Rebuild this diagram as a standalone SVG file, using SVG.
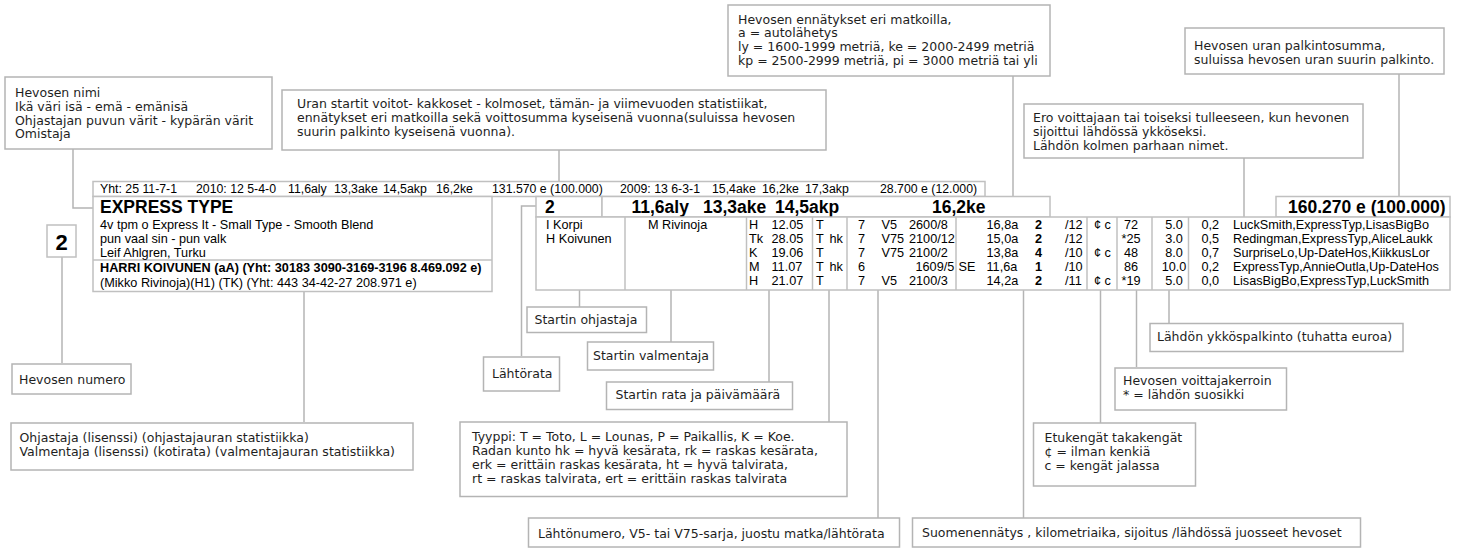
<svg xmlns="http://www.w3.org/2000/svg" width="1462" height="552" viewBox="0 0 1462 552">
<style>
.box{fill:#fff;stroke:#b4b4b4;stroke-width:1.5}
.tb{fill:#fff;stroke:#c0c0c0;stroke-width:1.5}
.ln{stroke:#b4b4b4;stroke-width:1.5;fill:none}
.cl{stroke:#c0c0c0;stroke-width:1.5}
.t{font-family:"DejaVu Sans",Verdana,sans-serif;font-size:12.5px;fill:#1e1e1e}
.a{font-family:"Liberation Sans",Arial,sans-serif;font-size:12.7px;fill:#000}
.y{font-family:"Liberation Sans",Arial,sans-serif;font-size:12.3px;fill:#000}
.b{font-weight:bold}
.h{font-family:"Liberation Sans",Arial,sans-serif;font-size:17.5px;font-weight:bold;fill:#000}
</style>
<rect width="1462" height="552" fill="#fff"/>

<g id="connectors" class="ln">
<polyline points="73,149 73,208 93,208"/>
<line x1="559" y1="150" x2="559" y2="181"/>
<line x1="1013" y1="76" x2="1013" y2="196"/>
<line x1="1399" y1="74" x2="1399" y2="196"/>
<line x1="1244" y1="158" x2="1244" y2="217"/>
<line x1="62" y1="257" x2="62" y2="363"/>
<line x1="304" y1="292" x2="304" y2="422"/>
<polyline points="521.5,356 521.5,206 536,206"/>
<line x1="579.5" y1="290" x2="579.5" y2="307"/>
<line x1="671" y1="290" x2="671" y2="342"/>
<line x1="769" y1="290" x2="769" y2="382"/>
<line x1="829" y1="290" x2="829" y2="422"/>
<line x1="878" y1="290" x2="878" y2="518"/>
<line x1="1023.5" y1="290" x2="1023.5" y2="518"/>
<line x1="1100.5" y1="290" x2="1100.5" y2="423"/>
<line x1="1136.5" y1="290" x2="1136.5" y2="367"/>
<line x1="1169" y1="290" x2="1169" y2="323"/>
</g>

<g id="note-horse-name">
<rect class="box" x="5" y="77" width="267" height="72"/>
<text class="t" x="15" y="97">Hevosen nimi</text>
<text class="t" x="15" y="110.8">Ikä väri isä - emä - emänisä</text>
<text class="t" x="15" y="124.6">Ohjastajan puvun värit - kypärän värit</text>
<text class="t" x="15" y="138.4">Omistaja</text>
</g>

<g id="note-career">
<rect class="box" x="282" y="90" width="544" height="60"/>
<text class="t" x="297" y="108">Uran startit voitot- kakkoset - kolmoset, tämän- ja viimevuoden statistiikat,</text>
<text class="t" x="297" y="122">ennätykset eri matkoilla sekä voittosumma kyseisenä vuonna(suluissa hevosen</text>
<text class="t" x="297" y="136">suurin palkinto kyseisenä vuonna).</text>
</g>

<g id="note-records">
<rect class="box" x="728" y="5" width="322" height="71"/>
<text class="t" x="738" y="23.5">Hevosen ennätykset eri matkoilla,</text>
<text class="t" x="738" y="37.2">a = autolähetys</text>
<text class="t" x="738" y="50.9">ly = 1600-1999 metriä, ke = 2000-2499 metriä</text>
<text class="t" x="738" y="64.6">kp = 2500-2999 metriä, pi = 3000 metriä tai yli</text>
</g>

<g id="note-prize-total">
<rect class="box" x="1185" y="28" width="259" height="46"/>
<text class="t" x="1194" y="50">Hevosen uran palkintosumma,</text>
<text class="t" x="1194" y="63.8">suluissa hevosen uran suurin palkinto.</text>
</g>

<g id="note-margin">
<rect class="box" x="1024" y="104" width="339" height="54"/>
<text class="t" x="1033" y="121.7">Ero voittajaan tai toiseksi tulleeseen, kun hevonen</text>
<text class="t" x="1033" y="135.7">sijoittui lähdössä ykköseksi.</text>
<text class="t" x="1033" y="149.7">Lähdön kolmen parhaan nimet.</text>
</g>

<g id="yht-row">
<rect class="tb" x="93" y="181.5" width="892" height="15"/>
<text class="y" x="100" y="193">Yht: 25 11-7-1</text>
<text class="y" x="196" y="193">2010: 12 5-4-0</text>
<text class="y" x="288" y="193">11,6aly</text>
<text class="y" x="334" y="193">13,3ake</text>
<text class="y" x="383" y="193">14,5akp</text>
<text class="y" x="436" y="193">16,2ke</text>
<text class="y" x="492" y="193">131.570 e (100.000)</text>
<text class="y" x="620" y="193">2009: 13 6-3-1</text>
<text class="y" x="712" y="193">15,4ake</text>
<text class="y" x="762" y="193">16,2ke</text>
<text class="y" x="805" y="193">17,3akp</text>
<text class="y" x="880" y="193">28.700 e (12.000)</text>
</g>

<g id="horse-info">
<rect class="tb" x="93" y="196.5" width="399" height="95"/>
<line class="cl" x1="93" y1="260" x2="492" y2="260"/>
<text class="h" x="100" y="213">EXPRESS TYPE</text>
<text class="a" x="100" y="229">4v tpm o Express It - Small Type - Smooth Blend</text>
<text class="a" x="100" y="242.8">pun vaal sin - pun valk</text>
<text class="a" x="100" y="256.6">Leif Ahlgren, Turku</text>
<text class="a b" x="100" y="272.4">HARRI KOIVUNEN (aA) (Yht: 30183 3090-3169-3196 8.469.092 e)</text>
<text class="a" x="100" y="286.6">(Mikko Rivinoja)(H1) (TK) (Yht: 443 34-42-27 208.971 e)</text>
</g>

<g id="horse-number">
<rect class="tb" x="47" y="225" width="29" height="32"/>
<text x="61.5" y="250" text-anchor="middle" font-family="Liberation Sans, Arial, sans-serif" font-size="22" font-weight="bold">2</text>
</g>

<g id="start-post">
<rect class="tb" x="536" y="196.5" width="66" height="20.5"/>
<text class="h" x="545" y="212.7">2</text>
</g>

<g id="records-header">
<rect class="tb" x="602" y="196.5" width="448" height="20.5"/>
<text class="h" x="631.5" y="212.7">11,6aly</text>
<text class="h" x="703" y="212.7">13,3ake</text>
<text class="h" x="775" y="212.7">14,5akp</text>
<text class="h" x="932" y="212.7">16,2ke</text>
</g>

<g id="prize-total">
<rect class="tb" x="1276" y="196.5" width="174" height="20.5"/>
<text class="h" x="1288" y="212.7">160.270 e (100.000)</text>
</g>

<g id="race-results">
<rect class="tb" x="536" y="217" width="914" height="73"/>
<line class="cl" x1="625" y1="217" x2="625" y2="290"/>
<line class="cl" x1="746.5" y1="217" x2="746.5" y2="290"/>
<line class="cl" x1="812.5" y1="217" x2="812.5" y2="290"/>
<line class="cl" x1="847" y1="217" x2="847" y2="290"/>
<line class="cl" x1="956" y1="217" x2="956" y2="290"/>
<line class="cl" x1="1087" y1="217" x2="1087" y2="290"/>
<line class="cl" x1="1117" y1="217" x2="1117" y2="290"/>
<line class="cl" x1="1152" y1="217" x2="1152" y2="290"/>
<line class="cl" x1="1188.5" y1="217" x2="1188.5" y2="290"/>

<text class="a" x="546" y="228.5">I Korpi</text>
<text class="a" x="546" y="242.6">H Koivunen</text>
<text class="a" x="648" y="228.5">M Rivinoja</text>

<text class="a" x="749" y="228.5">H</text>
<text class="a" x="749" y="242.6">Tk</text>
<text class="a" x="749" y="256.7">K</text>
<text class="a" x="749" y="270.8">M</text>
<text class="a" x="749" y="284.9">H</text>
<text class="a" x="771.5" y="228.5">12.05</text>
<text class="a" x="771.5" y="242.6">28.05</text>
<text class="a" x="771.5" y="256.7">19.06</text>
<text class="a" x="771.5" y="270.8">11.07</text>
<text class="a" x="771.5" y="284.9">21.07</text>

<text class="a" x="816" y="228.5">T</text>
<text class="a" x="816" y="242.6">T</text>
<text class="a" x="816" y="256.7">T</text>
<text class="a" x="816" y="270.8">T</text>
<text class="a" x="816" y="284.9">T</text>
<text class="a" x="829.5" y="242.6">hk</text>
<text class="a" x="829.5" y="270.8">hk</text>

<text class="a" x="858" y="228.5">7</text>
<text class="a" x="858" y="242.6">7</text>
<text class="a" x="858" y="256.7">7</text>
<text class="a" x="858" y="270.8">6</text>
<text class="a" x="858" y="284.9">7</text>
<text class="a" x="881.5" y="228.5">V5</text>
<text class="a" x="881.5" y="242.6">V75</text>
<text class="a" x="881.5" y="256.7">V75</text>
<text class="a" x="881.5" y="284.9">V5</text>
<text class="a" x="909" y="228.5">2600/8</text>
<text class="a" x="909" y="242.6">2100/12</text>
<text class="a" x="909" y="256.7">2100/2</text>
<text class="a" x="915.5" y="270.8">1609/5</text>
<text class="a" x="909" y="284.9">2100/3</text>
<text class="a" x="958.5" y="270.8">SE</text>

<text class="a" x="986.5" y="228.5">16,8a</text>
<text class="a" x="986.5" y="242.6">15,0a</text>
<text class="a" x="986.5" y="256.7">13,8a</text>
<text class="a" x="986.5" y="270.8">11,6a</text>
<text class="a" x="986.5" y="284.9">14,2a</text>
<text class="a b" x="1035" y="228.5">2</text>
<text class="a b" x="1035" y="242.6">2</text>
<text class="a b" x="1035" y="256.7">4</text>
<text class="a b" x="1035" y="270.8">1</text>
<text class="a b" x="1035" y="284.9">2</text>
<text class="a" x="1065" y="228.5">/12</text>
<text class="a" x="1065" y="242.6">/12</text>
<text class="a" x="1065" y="256.7">/10</text>
<text class="a" x="1065" y="270.8">/10</text>
<text class="a" x="1065" y="284.9">/11</text>

<text class="a" x="1094" y="228.5">¢ c</text>
<text class="a" x="1094" y="256.7">¢ c</text>
<text class="a" x="1094" y="284.9">¢ c</text>

<text class="a" x="1124" y="228.5">72</text>
<text class="a" x="1121.5" y="242.6">*25</text>
<text class="a" x="1124" y="256.7">48</text>
<text class="a" x="1124" y="270.8">86</text>
<text class="a" x="1121.5" y="284.9">*19</text>

<text class="a" x="1174" y="228.5" text-anchor="middle">5.0</text>
<text class="a" x="1174" y="242.6" text-anchor="middle">3.0</text>
<text class="a" x="1174" y="256.7" text-anchor="middle">8.0</text>
<text class="a" x="1174" y="270.8" text-anchor="middle">10.0</text>
<text class="a" x="1174" y="284.9" text-anchor="middle">5.0</text>

<text class="a" x="1201.5" y="228.5">0,2</text>
<text class="a" x="1201.5" y="242.6">0,5</text>
<text class="a" x="1201.5" y="256.7">0,7</text>
<text class="a" x="1201.5" y="270.8">0,2</text>
<text class="a" x="1201.5" y="284.9">0,0</text>

<text class="a" x="1233" y="228.5">LuckSmith,ExpressTyp,LisasBigBo</text>
<text class="a" x="1233" y="242.6">Redingman,ExpressTyp,AliceLaukk</text>
<text class="a" x="1233" y="256.7">SurpriseLo,Up-DateHos,KiikkusLor</text>
<text class="a" x="1233" y="270.8">ExpressTyp,AnnieOutla,Up-DateHos</text>
<text class="a" x="1233" y="284.9">LisasBigBo,ExpressTyp,LuckSmith</text>
</g>

<g id="note-horse-number">
<rect class="box" x="12" y="364" width="119" height="30"/>
<text class="t" x="19" y="384">Hevosen numero</text>
</g>

<g id="note-driver-trainer">
<rect class="box" x="11" y="423" width="402" height="47"/>
<text class="t" x="19.5" y="441.5">Ohjastaja (lisenssi) (ohjastajauran statistiikka)</text>
<text class="t" x="19.5" y="456">Valmentaja (lisenssi) (kotirata) (valmentajauran statistiikka)</text>
</g>

<g id="note-start-post">
<rect class="box" x="483.5" y="357" width="76" height="34"/>
<text class="t" x="492" y="378">Lähtörata</text>
</g>

<g id="note-start-driver">
<rect class="box" x="527" y="307" width="119.5" height="25.5"/>
<text class="t" x="534.5" y="323.5">Startin ohjastaja</text>
</g>

<g id="note-start-trainer">
<rect class="box" x="587.5" y="342" width="126" height="28"/>
<text class="t" x="593" y="359.5">Startin valmentaja</text>
</g>

<g id="note-track-date">
<rect class="box" x="606.5" y="382" width="186" height="27.5"/>
<text class="t" x="615.5" y="398.5">Startin rata ja päivämäärä</text>
</g>

<g id="note-type">
<rect class="box" x="460" y="422" width="387" height="74.5"/>
<text class="t" x="472" y="440.5">Tyyppi: T = Toto, L = Lounas, P = Paikallis, K = Koe.</text>
<text class="t" x="472" y="454.8">Radan kunto hk = hyvä kesärata, rk = raskas kesärata,</text>
<text class="t" x="472" y="469.1">erk = erittäin raskas kesärata, ht = hyvä talvirata,</text>
<text class="t" x="472" y="483.4">rt = raskas talvirata, ert = erittäin raskas talvirata</text>
</g>

<g id="note-race-number">
<rect class="box" x="528.5" y="518" width="371" height="29"/>
<text class="t" x="538" y="537.5">Lähtönumero, V5- tai V75-sarja, juostu matka/lähtörata</text>
</g>

<g id="note-record-time">
<rect class="box" x="912.5" y="518" width="448" height="29"/>
<text class="t" x="922" y="537">Suomenennätys , kilometriaika, sijoitus /lähdössä juosseet hevoset</text>
</g>

<g id="note-shoes">
<rect class="box" x="1033.5" y="423" width="162" height="63"/>
<text class="t" x="1044.5" y="441.5">Etukengät takakengät</text>
<text class="t" x="1044.5" y="455.5">¢ = ilman kenkiä</text>
<text class="t" x="1044.5" y="469.5">c = kengät jalassa</text>
</g>

<g id="note-odds">
<rect class="box" x="1115" y="368" width="171.5" height="42"/>
<text class="t" x="1123" y="384.5">Hevosen voittajakerroin</text>
<text class="t" x="1123" y="398.5">* = lähdön suosikki</text>
</g>

<g id="note-first-prize">
<rect class="box" x="1150" y="323.5" width="253" height="28"/>
<text class="t" x="1157" y="341">Lähdön ykköspalkinto (tuhatta euroa)</text>
</g>
</svg>
